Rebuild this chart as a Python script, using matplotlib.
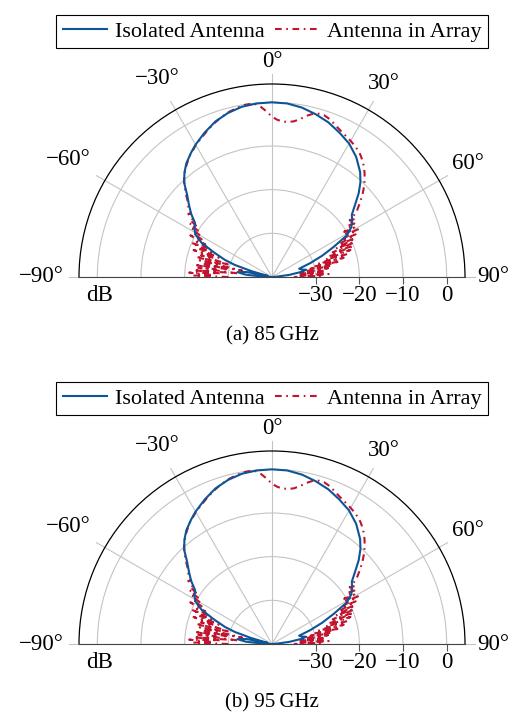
import numpy as np
import matplotlib
matplotlib.use('Agg')
import matplotlib.pyplot as plt
from matplotlib.lines import Line2D

plt.rcParams['font.family'] = ['Liberation Serif', 'DejaVu Serif']

# normalized radiation pattern (dB) vs angle (deg)
blue_deg = [-90, -88, -85, -82, -79, -76, -74, -72, -70, -67, -64, -61, -58, -55, -52, -49, -46, -43,
            -40, -37, -33, -30, -25, -20, -15, -10, -5, 0, 5, 10, 15, 20, 25, 30, 35, 40, 43, 46,
            49, 52, 55, 58, 61, 64, 67, 70, 73, 76, 78, 80, 83, 86, 90]
blue_db = [-40, -38, -34, -32, -34, -39, -35, -31, -28.5, -25.5, -22, -20, -19, -18.5, -16.5, -14.8, -13, -10.5,
           -8.8, -7.4, -6, -5, -3.5, -2.1, -1.1, -0.4, -0.1, 0, -0.1, -0.6, -1.4, -2.3, -3.5, -4.7, -6.4, -8.6, -10.3, -12.4,
           -14.8, -16.8, -17.6, -18.6, -20.5, -24.3, -27.5, -30.6, -33.5, -33, -32, -33, -36, -39, -40]

red_deg_left = list(range(-90, -49))
red_db_left = [-30, -22, -26, -21, -28, -22, -32, -23, -27, -22,
               -30, -24, -33, -23, -28, -22, -30, -23, -26, -21,
               -27, -22, -25, -20, -24, -21, -23, -19, -22, -19.5,
               -21, -18.5, -20, -17.5, -19, -17, -17.5, -16, -16.5, -15.5,
               -15]
red_deg_mid = [-48, -46, -44, -42, -40, -38, -36, -34, -32, -30, -27, -24, -21, -18, -15, -12, -9, -6, -4, -2,
               0, 2, 4, 6, 8, 10, 12, 14, 16, 18, 20, 22, 24, 26, 28, 30, 32, 34, 36, 38, 40, 42, 44, 46, 48, 50, 52]
red_db_mid = [-14.0, -12.6, -11.2, -9.9, -8.9, -8.0, -7.2, -6.4, -5.8, -5.1, -4.3, -3.4, -2.5, -1.7, -1.0, -0.5, -0.1, 0, -0.8, -2.0,
              -3.3, -4.0, -4.3, -4.3, -4.0, -3.3, -2.3, -1.5, -1.1, -1.1, -1.5, -2.1, -2.7, -3.2, -3.6, -4.0, -4.4, -4.9, -5.5, -6.3,
              -7.2, -8.3, -9.5, -10.8, -12.2, -13.8, -15.3]
red_deg_right = list(range(53, 91))
red_db_right = [-16.5, -18, -16.8, -19, -17.5, -20.5, -18, -21, -17.5, -22, -18.5, -23, -19, -24, -19.5, -25,
                -20, -26, -21, -27, -22, -29, -23, -30, -24, -31, -26, -32, -27, -33, -28, -34, -28, -33, -27, -34, -29, -35]

red_deg = red_deg_left + red_deg_mid + red_deg_right
red_db = red_db_left + red_db_mid + red_db_right

captions = ['(a) 85\u2009GHz', '(b) 95\u2009GHz']
angle_ticks = [-90, -60, -30, 0, 30, 60, 90]
angle_labels = ['\u221290°', '\u221260°', '\u221230°', '0°', '30°', '60°', '90°']
label_r = [12.9, 14.0, 12.4, 9.3, 11.1, 11.9, 10.7]
r_ticks = [-30, -20, -10, 0]
r_labels = ['\u221230', '\u221220', '\u221210', '0']

blue = '#0d5596'
red = '#c0142f'
grid_c = '#c4c4c4'
dashdot = (0, (3.2, 2.2, 0.8, 2.2))

fig = plt.figure(figsize=(5.18, 7.12), dpi=100)
W, H = 518, 712
R = 193
RMAX = 4.2
for k, cap in enumerate(captions):
    y0 = 277 + 367 * k          # baseline (px from top)
    yc = y0 - R / 2             # vertical centre of the half disc
    ax = fig.add_axes([(272 - R) / W, (H - yc - R) / H, 2 * R / W, 2 * R / H], projection='polar')
    ax.set_theta_zero_location('N')
    ax.set_theta_direction(-1)
    ax.set_thetamin(-90)
    ax.set_thetamax(90)
    ax.set_rlim(-40, RMAX)
    ax.set_thetagrids(angle_ticks, labels=[''] * len(angle_ticks))
    ax.set_rgrids(r_ticks, labels=[''] * len(r_ticks))
    ax.grid(True, color=grid_c, lw=0.8)
    ax.tick_params(length=0)
    ax.spines['polar'].set_color('black')
    ax.spines['polar'].set_linewidth(0.9)
    ax.spines['start'].set_color('#444444')
    ax.spines['end'].set_color('#444444')

    # angular ticks sticking out of the outer circle
    for a in angle_ticks:
        ax.plot([np.deg2rad(a)] * 2, [RMAX, RMAX + 2.2], color=grid_c, lw=0.8, clip_on=False)

    ax.plot(np.deg2rad(blue_deg), blue_db, color=blue, lw=1.5, zorder=4)
    ax.plot(np.deg2rad(red_deg), red_db, color=red, lw=1.5, ls=dashdot, zorder=3)

    for a, lab, rr in zip(angle_ticks, angle_labels, label_r):
        ax.text(np.deg2rad(a), rr, lab, ha='center', va='center', fontsize=16.5)
    ax.plot(np.full(len(r_ticks), np.pi / 2), r_ticks, ls='none', marker=3, ms=5, mew=0.8,
            color='#555555', clip_on=False, zorder=5)
    for rt, rl in zip(r_ticks, r_labels):
        ax.annotate(rl, xy=(np.pi / 2, rt), xytext=(0, -13.3), textcoords='offset points',
                    ha='center', va='center', fontsize=16.5)
    ax.annotate('dB', xy=(-np.pi / 2, -0.4), xytext=(0, -13.3), textcoords='offset points',
                ha='center', va='center', fontsize=16.5)

    handles = [Line2D([], [], color=blue, lw=1.5),
               Line2D([], [], color=red, lw=1.5, ls=dashdot)]
    leg = fig.legend(handles, ['Isolated Antenna', 'Antenna in Array'], ncol=2,
                     loc='center', bbox_to_anchor=(272 / W, 1 - (31.5 + 367 * k) / H),
                     fontsize=16, frameon=True, fancybox=False, edgecolor='black',
                     framealpha=1, handlelength=2.0, handletextpad=0.35, columnspacing=0.45,
                     borderpad=0.28, borderaxespad=0)
    leg.get_frame().set_linewidth(0.8)
    fig.text(272 / W, 1 - (336 + 367 * k) / H, cap, ha='center', va='center', fontsize=15)

fig.savefig('out.png', dpi=100)
